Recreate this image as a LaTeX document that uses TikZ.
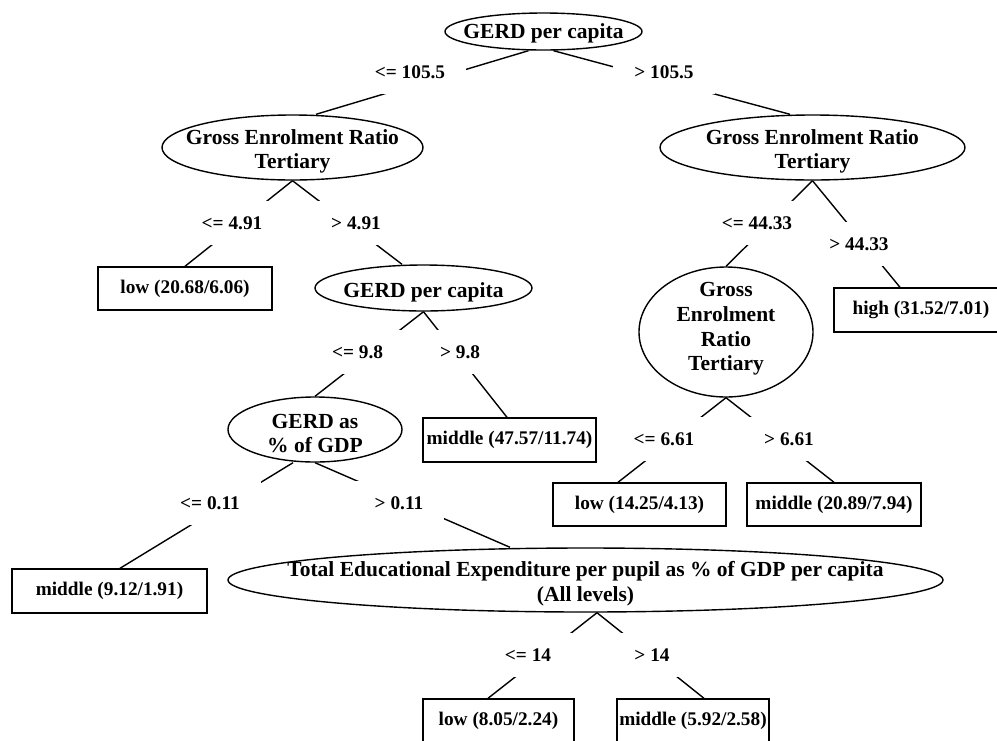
\documentclass[tikz,border=0pt]{standalone}
\usepackage{fontspec}
\setmainfont{Liberation Serif}
\usepackage{tikz}
\usetikzlibrary{shapes.geometric,backgrounds}
\tikzstyle{split}=[draw,ellipse,fill=white,inner sep=0pt,line width=1.4pt]
\tikzstyle{splittext}=[align=center,inner sep=0pt,yshift=-4pt,font=\fontsize{21.5}{24.7}\selectfont\bfseries]
\tikzstyle{leaf}=[draw,rectangle,fill=white,inner sep=0pt,line width=1.4pt,font=\fontsize{19.3}{23}\selectfont\bfseries]
\tikzstyle{cond}=[fill=white,inner xsep=21pt,inner ysep=0pt,minimum height=44pt,font=\fontsize{19.3}{23}\selectfont\bfseries]
\tikzstyle{edge}=[line width=1.4pt]

\begin{document}
\begin{tikzpicture}[x=1pt,y=-1pt]
  \useasboundingbox (0,0) rectangle (997,740);
  \clip (0,0) rectangle (997,740);

  % splits
  \node[split,minimum width=197pt,minimum height=37pt,
    label={[splittext,yshift=2pt]center:GERD per capita}] (root) at (543.5,31.5) {};
  \node[split,minimum width=261pt,minimum height=65pt,
    label={[splittext]center:Gross Enrolment Ratio\\Tertiary}] (gerL) at (292.5,147.5) {};
  \node[split,minimum width=305pt,minimum height=65pt,
    label={[splittext]center:Gross Enrolment Ratio\\Tertiary}] (gerR) at (812.5,147.5) {};
  \node[split,minimum width=217pt,minimum height=46pt,
    label={[splittext]center:GERD per capita}] (gerd) at (423.5,288) {};
  \node[split,minimum width=174pt,minimum height=65pt,
    label={[splittext]center:GERD as\\\% of GDP}] (gdp) at (315,429.5) {};
  \node[split,minimum width=174pt,minimum height=130pt,
    label={[splittext,yshift=7pt]center:Gross\\Enrolment\\Ratio\\Tertiary}] (gerT) at (726,332) {};
  \node[split,minimum width=715pt,minimum height=64pt,
    label={[splittext]center:Total Educational Expenditure per pupil as \% of GDP per capita\\(All levels)}] (total) at (585.5,580) {};

  % leaves
  \node[leaf,minimum width=174pt,minimum height=43pt] (lowA) at (185,288.5) {low (20.68/6.06)};
  \node[leaf,minimum width=173pt,minimum height=44pt] (midA) at (509.5,440) {middle (47.57/11.74)};
  \node[leaf,minimum width=195pt,minimum height=44pt] (midB) at (109.5,591) {middle (9.12/1.91)};
  \node[leaf,minimum width=151pt,minimum height=43pt] (lowC) at (498.5,720.5) {low (8.05/2.24)};
  \node[leaf,minimum width=152pt,minimum height=43pt] (midD) at (693,720.5) {middle (5.92/2.58)};
  \node[leaf,minimum width=174pt,minimum height=44pt] (high) at (921,310) {high (31.52/7.01)};
  \node[leaf,minimum width=173pt,minimum height=43pt] (lowB) at (639.5,504.5) {low (14.25/4.13)};
  \node[leaf,minimum width=174pt,minimum height=43pt] (midC) at (834,504.5) {middle (20.89/7.94)};

  % branch conditions
  \node[cond] (c1) at (410,72) {<= 105.5};
  \node[cond] (c2) at (664,72) {> 105.5};
  \node[cond] (c3) at (232,223) {<= 4.91};
  \node[cond] (c4) at (356,223) {> 4.91};
  \node[cond] (c5) at (357.5,352) {<= 9.8};
  \node[cond] (c6) at (460,352) {> 9.8};
  \node[cond] (c7) at (210,503) {<= 0.11};
  \node[cond] (c8) at (399,503) {> 0.11};
  \node[cond] (c9) at (528,655) {<= 14};
  \node[cond] (c10) at (652,655) {> 14};
  \node[cond] (c11) at (757,223) {<= 44.33};
  \node[cond] (c12) at (859,244) {> 44.33};
  \node[cond] (c13) at (664,439) {<= 6.61};
  \node[cond] (c14) at (789,439) {> 6.61};

  \begin{pgfonlayer}{background}
    \draw[edge] ([xshift=-15pt]root.south) -- ([xshift=23.5pt]gerL.north);
    \draw[edge] ([xshift=10pt]root.south) -- ([xshift=-22.5pt]gerR.north);
    \draw[edge] (gerL.south) -- (lowA.north);
    \draw[edge] (gerL.south) -- ([xshift=-21.5pt]gerd.north);
    \draw[edge] (gerd.south) -- (gdp.north);
    \draw[edge] (gerd.south) -- ([xshift=-2.5pt]midA.north);
    \draw[edge] ([xshift=-22pt]gdp.south) -- ([xshift=10.5pt]midB.north);
    \draw[edge] (gdp.south) -- ([xshift=-75.5pt]total.north);
    \draw[edge] ([xshift=11.5pt]total.south) -- ([xshift=-10.5pt]lowC.north);
    \draw[edge] ([xshift=11.5pt]total.south) -- ([xshift=11pt]midD.north);
    \draw[edge] (gerR.south) -- (gerT.north);
    \draw[edge] (gerR.south) -- ([xshift=-21pt]high.north);
    \draw[edge] (gerT.south) -- ([xshift=-21.5pt]lowB.north);
    \draw[edge] (gerT.south) -- (midC.north);
  \end{pgfonlayer}
\end{tikzpicture}
\end{document}
